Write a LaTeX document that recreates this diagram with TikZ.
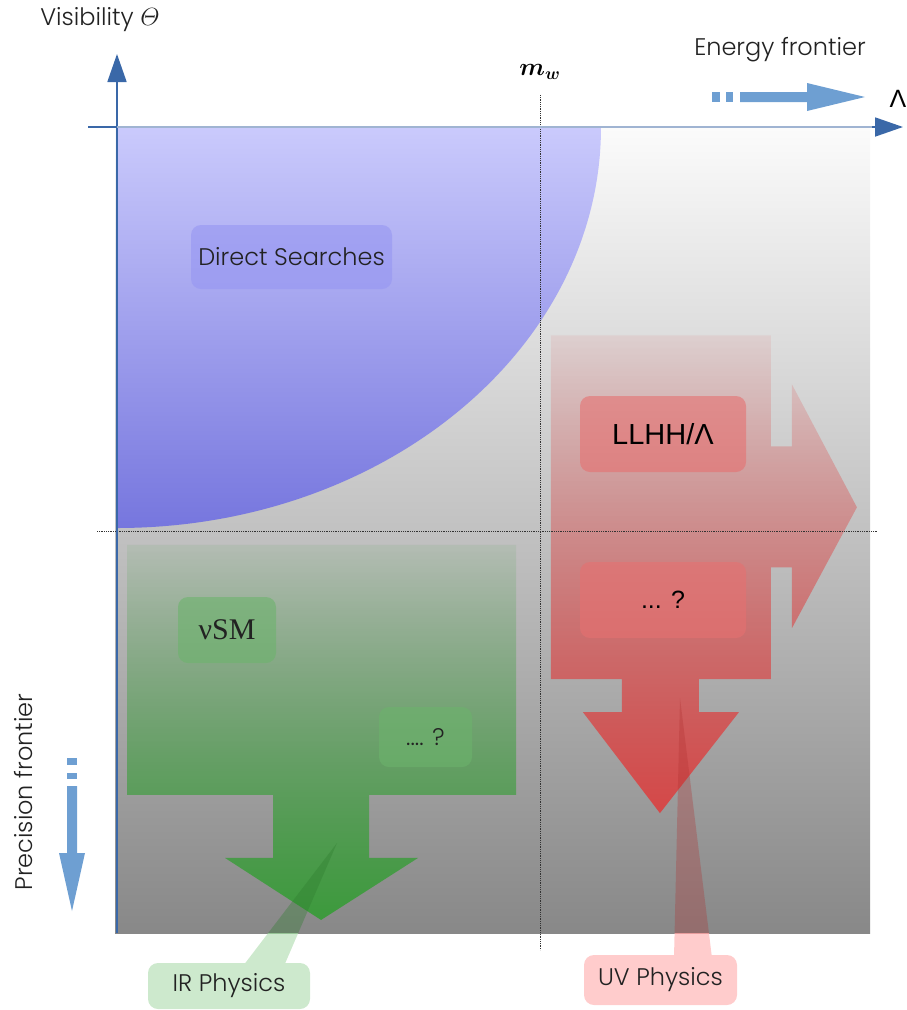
\documentclass[tikz,border=0pt]{standalone}
\usepackage{fontspec}
\setmainfont{Poppins}[UprightFont=* Light]
\newfontfamily\arialf{Liberation Sans}
\newfontfamily\seriff{Liberation Serif}
\usepackage{amsmath,bm}
\usetikzlibrary{arrows.meta,fadings}
\definecolor{bgtop}{HTML}{FBFBFB}
\definecolor{bgbot}{HTML}{888888}
\definecolor{bluetop}{HTML}{CACAFC}
\definecolor{bluebot}{HTML}{7676DE}
\definecolor{greenC}{HTML}{2F9E2F}
\definecolor{redC}{HTML}{E03A3A}
\definecolor{dsfill}{HTML}{9696F2}
\definecolor{gbox}{HTML}{6CB36C}
\definecolor{rbox}{HTML}{E67070}
\definecolor{axisblue}{HTML}{3A68A8}
\definecolor{axislight}{HTML}{A0B4D2}
\definecolor{frontier}{HTML}{6E9FD2}
\definecolor{irlight}{HTML}{CDE9CD}
\definecolor{irdark}{HTML}{2E7D2E}
\definecolor{uvlight}{HTML}{FFCCCC}
\definecolor{uvdark}{HTML}{B03030}
\definecolor{txt}{HTML}{222222}
\tikzfading[name=fadedown, top color=transparent!92, bottom color=transparent!15]
\tikzset{
  lbl/.style={font=\fontsize{24}{28}\selectfont, text=txt, inner sep=0pt},
  roundbox/.style={rounded corners=10pt, inner sep=0pt, text=txt},
  dsbox/.style={roundbox, fill=dsfill, fill opacity=.6, text opacity=1},
  greenbox/.style={roundbox, fill=gbox, fill opacity=.6, text opacity=1},
  redbox/.style={roundbox, fill=rbox, fill opacity=.6, text opacity=1, text=black},
  guide/.style={densely dotted, black!80, line width=0.8pt},
  axis/.style={axisblue, line width=1.8pt},
  frontierfill/.style={fill=frontier},
}
\begin{document}
\begin{tikzpicture}[x=1pt,y=-1pt]
\useasboundingbox (0,0) rectangle (907,1010);
% background
\fill[top color=bgtop, bottom color=bgbot] (115,127) rectangle (870,933);
% direct search region
\path[top color=bluetop, bottom color=bluebot] (117,127) -- (601,127)
  .. controls (601,348.5) and (384.3,528) .. (117,528) -- cycle;
% green arrow
\fill[greenC, path fading=fadedown] (127,545) -- (516,545) -- (516,795) -- (369,795) -- (369,858)
  -- (418,858) -- (321,920) -- (225,858) -- (273,858) -- (273,795) -- (127,795) -- cycle;
% red arrow
\fill[redC, path fading=fadedown] (551,335) -- (771,335) -- (771,446) -- (792,446) -- (792,384)
  -- (857,507) -- (792,628) -- (792,567) -- (771,567) -- (771,679) -- (699,679) -- (699,712)
  -- (739,712) -- (660,813) -- (583,712) -- (622,712) -- (622,679) -- (551,679) -- cycle;
% guides
\coordinate (mwtop) at (540,95);
\coordinate (mwbot) at (540,950);
\coordinate (hl) at (97,531);
\coordinate (hr) at (877,531);
\draw[guide] (mwtop) -- (mwbot);
\draw[guide] (hl) -- (hr);
% boxes
\node[dsbox, minimum width=201pt, minimum height=64pt] (ds) at (291.5,257)
  {\fontsize{24}{28}\selectfont Direct Searches};
\node[greenbox, minimum width=98pt, minimum height=66pt] (nusm) at (227,630)
  {\seriff\fontsize{30}{32}\selectfont νSM};
\node[greenbox, minimum width=93pt, minimum height=60pt] (qg) at (425.5,737)
  {\fontsize{24}{28}\selectfont .... ?};
\node[redbox, minimum width=166pt, minimum height=76pt] (llhh) at (663,434)
  {\arialf\fontsize{29}{32}\selectfont LLHH/Λ};
\node[redbox, minimum width=166pt, minimum height=76pt] (qr) at (663,600)
  {\arialf\fontsize{25}{28}\selectfont ... ?};
% axes
\coordinate (vbot) at (117,933);
\coordinate (vtop) at (117,54);
\coordinate (hleft) at (88,127);
\coordinate (hright) at (903,127);
\coordinate (rl) at (117,127);
\coordinate (rr) at (872,127);
\draw[axis, -{Triangle[length=28pt,width=19pt]}] (vbot) -- (vtop);
\draw[axis, -{Triangle[length=28pt,width=19pt]}] (hleft) -- (hright);
\draw[axislight, line width=1.8pt] (rl) -- (rr);
% labels
\node[lbl] (vis) at (100,20) {Visibility $\varTheta$};
\node[lbl] (energy) at (780,50) {Energy frontier};
\node[lbl, rotate=90] (prec) at (24,792) {Precision frontier};
\node[inner sep=0pt, font=\fontsize{27}{30}\selectfont] (mw) at (540,72) {$\bm{m_w}$};
\node[inner sep=0pt, font=\arialf\fontsize{25}{28}\selectfont] (lam) at (898,99) {Λ};
% energy frontier arrow
\fill[frontierfill] (712,92) rectangle (720,102);
\fill[frontierfill] (726,92) rectangle (733,102);
\fill[frontierfill] (740,92) -- (807,92) -- (807,83) -- (865,97) -- (807,111) -- (807,102) -- (740,102) -- cycle;
% precision frontier arrow
\fill[frontierfill] (67,758) rectangle (77,765);
\fill[frontierfill] (67,773) rectangle (77,779);
\fill[frontierfill] (67,786) -- (77,786) -- (77,853) -- (85,853) -- (72,911) -- (59,853) -- (67,853) -- cycle;
% IR callout
\begin{scope}
  \clip (0,933) rectangle (907,1010);
  \fill[irlight] (243,966) -- (337,843) -- (284,966) -- cycle;
\end{scope}
\node[roundbox, fill=irlight, minimum width=162pt, minimum height=46pt] (ir) at (229,986)
  {\fontsize{24}{28}\selectfont IR Physics};
\begin{scope}
  \clip (115,127) rectangle (870,933);
  \fill[irdark, opacity=.35] (243,966) -- (337,843) -- (284,966) -- cycle;
\end{scope}
% UV callout
\begin{scope}
  \clip (0,933) rectangle (907,1010);
  \fill[uvlight] (674,958) -- (680,698) -- (712,958) -- cycle;
\end{scope}
\node[roundbox, fill=uvlight, minimum width=153pt, minimum height=50pt] (uv) at (660.5,980)
  {\fontsize{24}{28}\selectfont UV Physics};
\begin{scope}
  \clip (115,127) rectangle (870,933);
  \fill[uvdark, opacity=.3] (674,958) -- (680,698) -- (712,958) -- cycle;
\end{scope}
\end{tikzpicture}
\end{document}
